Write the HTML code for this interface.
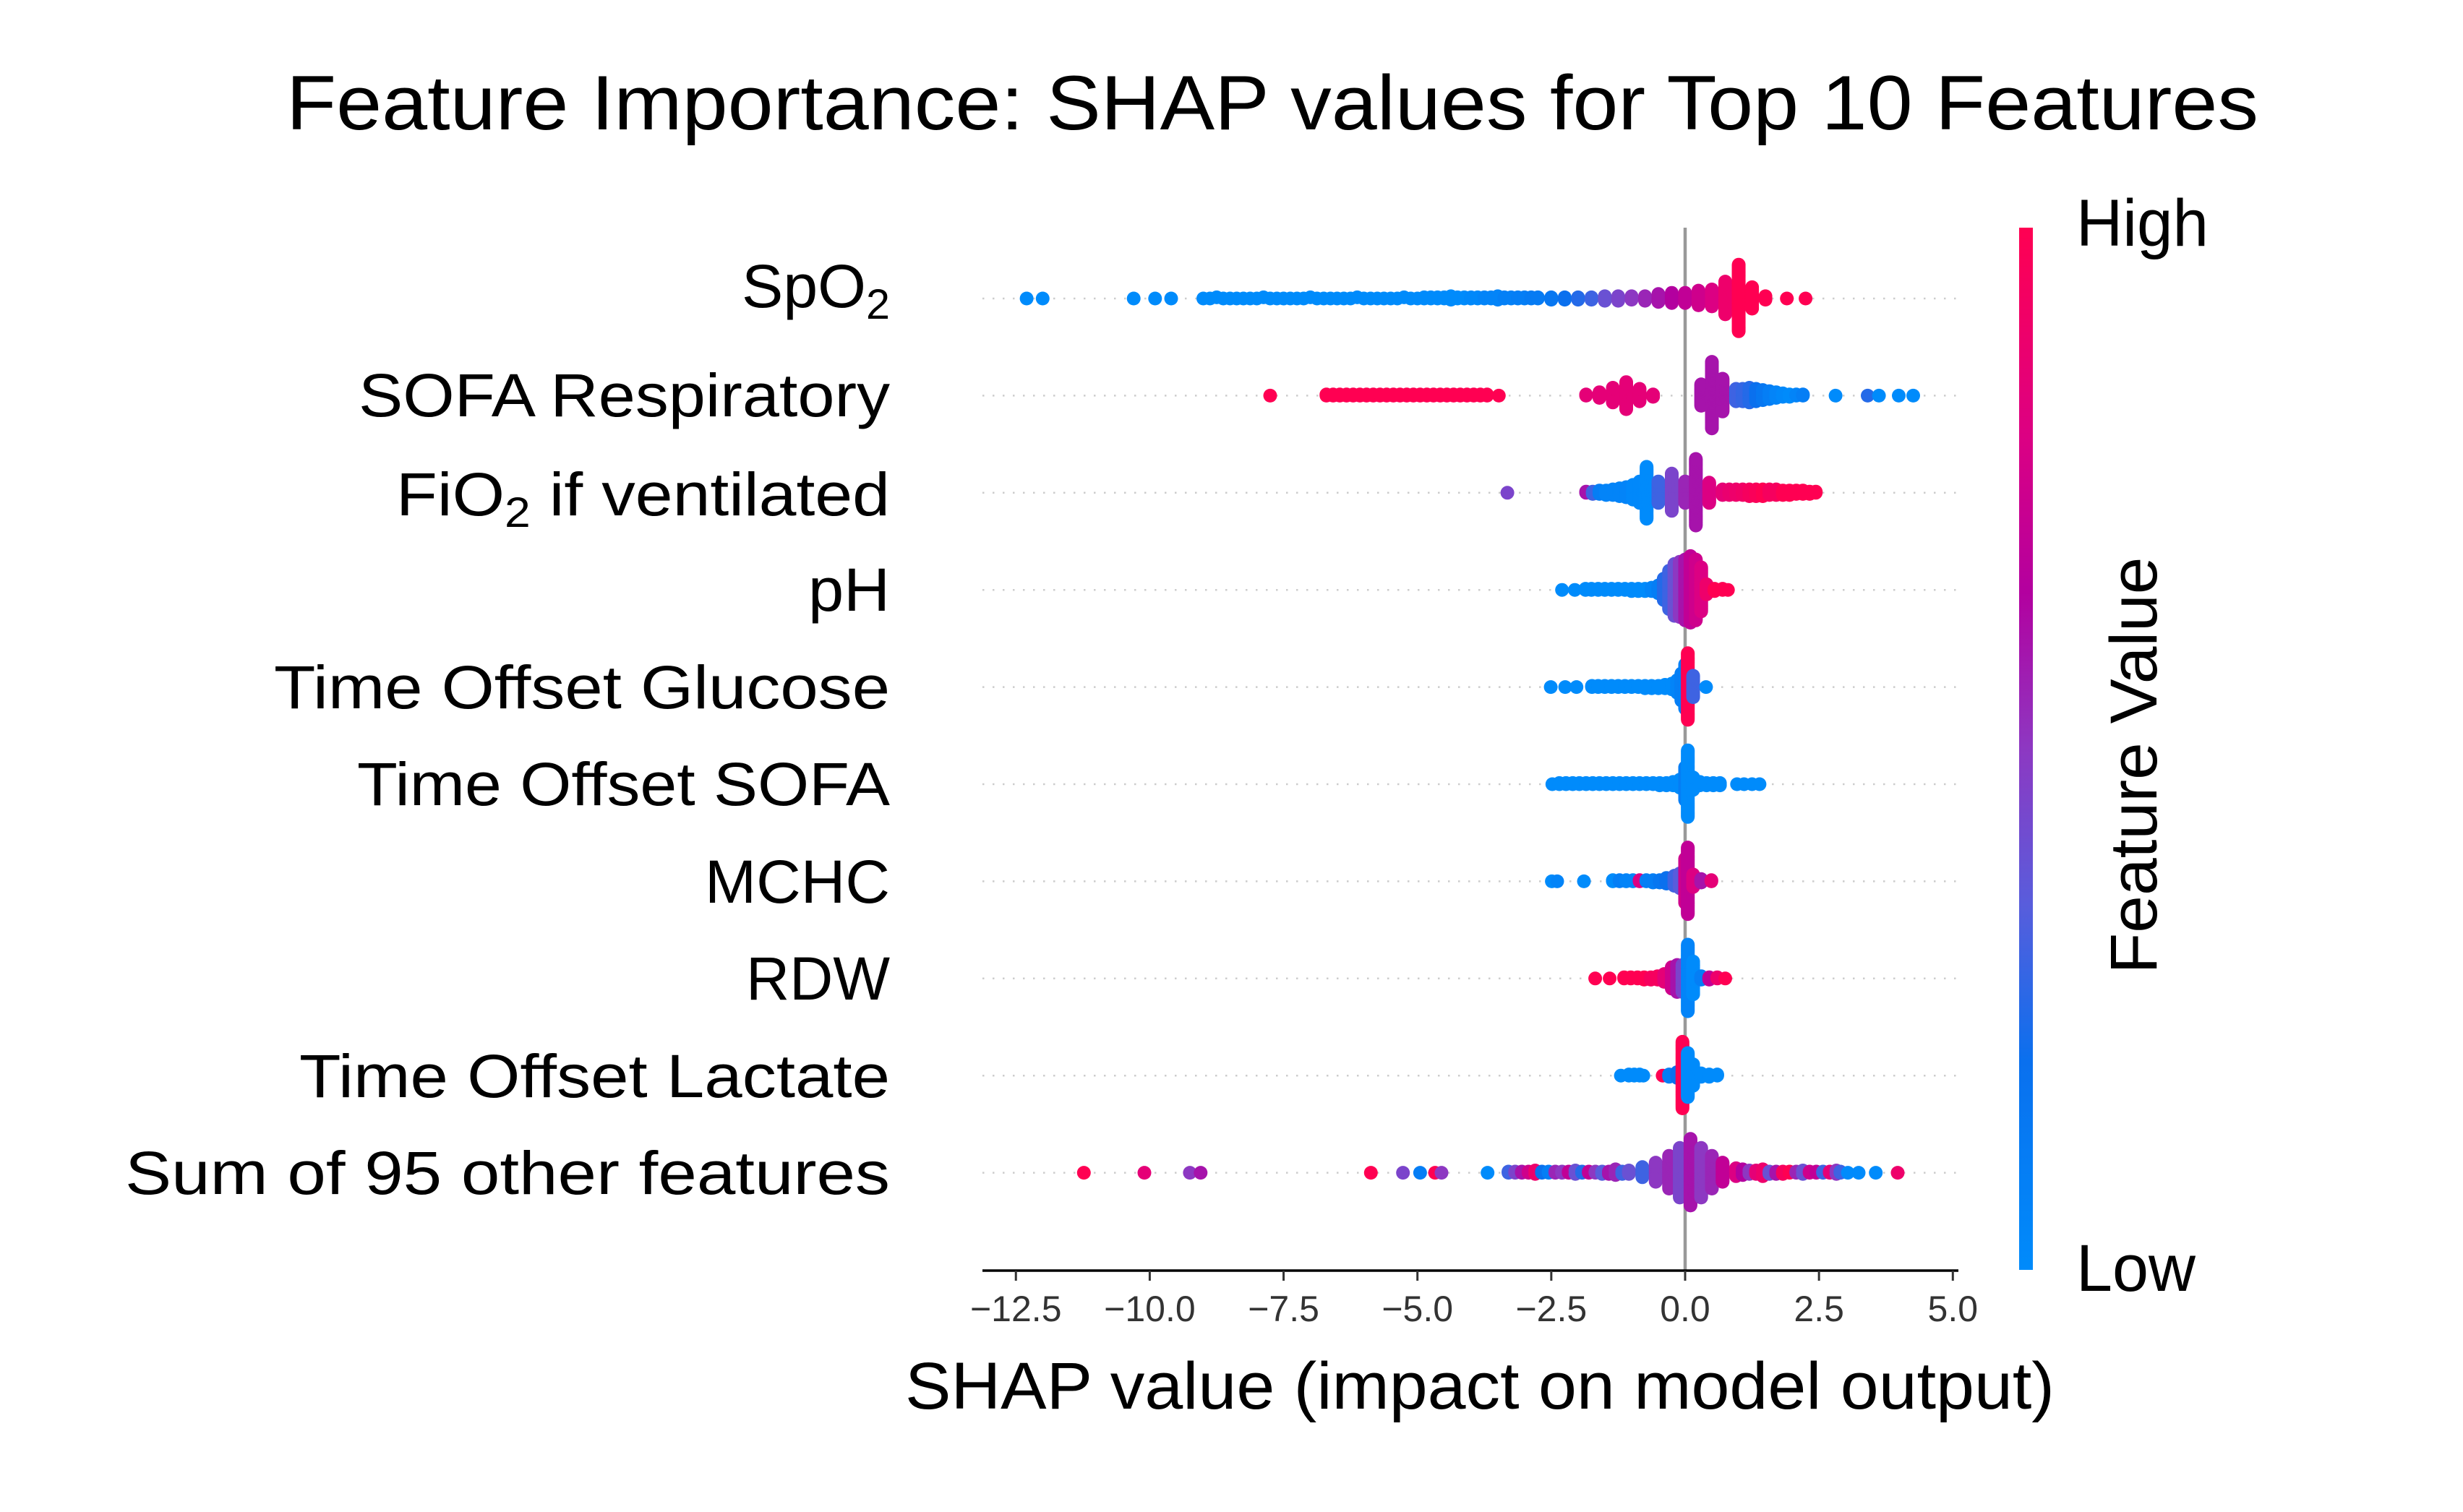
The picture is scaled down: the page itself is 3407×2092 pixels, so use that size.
<!DOCTYPE html>
<html><head><meta charset="utf-8"><title>SHAP summary</title>
<style>html,body{margin:0;padding:0;background:#fff}svg{display:block}text{font-family:"Liberation Sans",sans-serif}</style>
</head><body>
<svg id="chart" xmlns="http://www.w3.org/2000/svg" width="3407" height="2092" viewBox="0 0 3407 2092">
<defs>
<linearGradient id="cbar" x1="0" y1="1" x2="0" y2="0">
<stop offset="0" stop-color="#008bfb"/><stop offset="0.2" stop-color="#0a70ee"/><stop offset="0.35" stop-color="#585ddc"/><stop offset="0.5" stop-color="#8d38c2"/><stop offset="0.65" stop-color="#b3009f"/><stop offset="0.8" stop-color="#dc0083"/><stop offset="1" stop-color="#ff0052"/>
</linearGradient>
</defs>
<rect width="3407" height="2092" fill="#fff"/>
<text x="396" y="179" font-size="107" textLength="2728" lengthAdjust="spacingAndGlyphs" fill="#000">Feature Importance: SHAP values for Top 10 Features</text>
<g id="grid"></g>
<line x1="2331" y1="315" x2="2331" y2="1758" stroke="#999" stroke-width="4.5"/>
<g id="dots"></g>
<g id="labels"></g>
<line x1="1359" y1="1758" x2="2709" y2="1758" stroke="#000" stroke-width="3.5"/>
<g id="xticks"></g>
<text x="1252" y="1949" font-size="92" textLength="1590" lengthAdjust="spacingAndGlyphs" fill="#000">SHAP value (impact on model output)</text>
<rect x="2793" y="315" width="19" height="1442" fill="url(#cbar)"/>
<text x="2872" y="340" font-size="92" textLength="183" lengthAdjust="spacingAndGlyphs" fill="#000">High</text>
<text x="2872" y="1786" font-size="92" textLength="165" lengthAdjust="spacingAndGlyphs" fill="#000">Low</text>
<text transform="translate(2983,1059) rotate(-90)" text-anchor="middle" font-size="92" textLength="577" lengthAdjust="spacingAndGlyphs" fill="#000">Feature Value</text>
</svg>
<script>
const features = ["SpO2","SOFA Respiratory","FiO2 if ventilated","pH","Time Offset Glucose","Time Offset SOFA","MCHC","RDW","Time Offset Lactate","Sum of 95 other features"];
const xTicks = [-12.5,-10,-7.5,-5,-2.5,0,2.5,5];
const xTickLabels = ["\u221212.5","\u221210.0","\u22127.5","\u22125.0","\u22122.5","0.0","2.5","5.0"];

// per-feature: SHAP value positions, number of points at that value, feature value colour (0 low .. 1 high)
const vals0 = [-12.3,-12.0,-10.3,-9.9,-9.6,
 -9.0,-8.875,-8.75,-8.625,-8.5,-8.375,-8.25,-8.125,-8.0,-7.875,-7.75,-7.625,-7.5,-7.375,-7.25,-7.125,-7.0,-6.875,-6.75,-6.625,-6.5,-6.375,-6.25,-6.125,-6.0,-5.875,-5.75,-5.625,-5.5,-5.375,-5.25,-5.125,-5.0,
 -4.875,-4.75,-4.625,-4.5,-4.375,-4.25,-4.125,-4.0,-3.875,-3.75,-3.625,-3.5,-3.375,-3.25,-3.125,-3.0,-2.875,-2.75,
 -2.5,-2.25,-2.0,-1.75,-1.5,-1.25,-1.0,-0.75,-0.5,-0.25,0,0.25,0.5,0.75,1.0,1.25,1.5,1.9,2.25];
const cnts0 = [1,1,1,1,1,
 1,1,1,1,1,1,1,1,1,1,1,1,1,1,1,1,1,1,1,1,1,1,1,1,1,1,1,1,1,1,1,1,1,
 2,2,2,2,2,2,2,2,2,2,2,2,2,2,2,2,2,2,
 3,3,3,3,5,5,4,5,8,10,10,14,16,30,60,20,4,1,1];
const cols0 = [0,0,0,0,0,
 0,0,0,0,0,0,0,0,0,0,0,0,0,0,0,0,0,0,0,0,0,0,0,0,0,0,0,0,0,0,0,0,0,
 0,0,0,0,0,0,0,0.02,0.02,0.05,0.05,0.05,0.08,0.08,0.1,0.1,0.12,0.12,
 0.15,0.2,0.25,0.3,0.4,0.45,0.5,0.55,0.6,0.65,0.7,0.75,0.8,0.9,1,1,1,1,1];

const vals1 = [-7.75,-6.7,-6.575,-6.45,-6.325,-6.2,-6.075,-5.95,-5.825,-5.7,-5.575,-5.45,-5.325,-5.2,-5.075,-4.95,-4.825,-4.7,-4.575,-4.45,-4.325,-4.2,-4.075,-3.95,-3.825,-3.7,-3.48,
 -1.85,-1.6,-1.35,-1.1,-0.85,-0.6,0.3,0.5,0.7,0.95,1.075,1.2,1.325,1.45,1.575,1.7,1.825,1.95,2.075,2.2,2.81,3.41,3.62,3.99,4.26];
const cnts1 = [1,2,2,2,2,2,2,2,2,2,2,2,2,2,2,2,2,2,2,2,2,2,2,2,2,2,1,
 2,6,14,25,12,3,20,60,30,12,12,14,12,10,8,6,4,3,2,2,1,1,1,1,1];
const cols1 = [1,1,1,1,1,1,1,1,1,1,1,1,1,1,1,1,1,1,1,1,1,1,1,1,1,1,1,
 0.85,0.85,0.85,0.85,0.85,0.85,0.6,0.6,0.6,0.3,0.28,0.25,0.2,0.15,0.1,0.05,0.02,0,0.05,0.1,0,0.25,0,0,0];

const vals2 = [-3.32,-1.85,-1.725,-1.6,-1.475,-1.35,-1.225,-1.1,-0.975,-0.85,-0.72,-0.5,-0.25,0.0,0.2,0.45,0.7,0.825,0.95,1.075,1.2,1.325,1.45,1.575,1.7,1.825,1.95,2.075,2.2,2.325,2.44];
const cnts2 = [1,2,3,4,5,6,8,10,14,20,47,20,34,20,60,19,6,6,6,6,7,7,7,6,6,5,5,4,4,3,2];
const cols2 = [0.45,0.6,0.3,0.1,0.05,0.05,0.05,0.05,0.02,0.02,0,0.3,0.45,0.55,0.6,0.8,0.85,0.88,0.9,0.92,0.95,0.97,1,0.95,0.95,1,1,1,1,1,1];

const vals3 = [-2.3,-2.06,-1.86,-1.75,-1.625,-1.5,-1.375,-1.25,-1.125,-1.0,-0.875,-0.75,-0.625,-0.5,-0.4,-0.3,-0.2,-0.1,0.0,0.1,0.2,0.3,0.4,0.55,0.7,0.8];
const cnts3 = [1,1,2,2,2,2,2,2,2,3,3,3,4,8,20,35,47,50,55,60,55,40,10,3,2,1];
const cols3 = [0,0,0,0,0,0,0,0,0,0,0,0,0.05,0.1,0.25,0.3,0.4,0.5,0.6,0.7,0.75,0.8,0.9,1,1,1];

const vals4 = [-2.51,-2.24,-2.03,-1.74,-1.625,-1.5,-1.375,-1.25,-1.125,-1.0,-0.875,-0.75,-0.625,-0.5,-0.375,-0.25,-0.15,-0.07,0.0,0.05,0.15,0.39];
const cnts4 = [1,1,1,2,2,2,2,2,2,2,2,3,3,3,4,6,12,25,40,60,20,1];
const cols4 = [0,0,0,0,0,0,0,0,0,0,0,0,0,0,0,0,0.05,0.1,0.1,1,0.3,0];

const vals5 = [-2.48,-2.35,-2.225,-2.1,-1.975,-1.85,-1.725,-1.6,-1.475,-1.35,-1.225,-1.1,-0.975,-0.85,-0.725,-0.6,-0.475,-0.35,-0.225,-0.1,0.0,0.05,0.15,0.275,0.4,0.525,0.65,0.97,1.1,1.25,1.39];
const cnts5 = [1,2,2,2,2,2,2,2,2,2,2,2,2,2,2,2,3,3,4,8,30,60,12,4,3,3,3,1,1,1,1];
const cols5 = [0,0,0,0,0,0,0,0,0,0,0,0,0,0,0,0,0,0,0,0,0.1,0,0,0,0,0,0,0,0,0,0];

const vals6 = [-2.49,-2.39,-1.89,-1.35,-1.225,-1.1,-0.975,-0.85,-0.725,-0.6,-0.475,-0.35,-0.2,-0.1,0.0,0.05,0.15,0.3,0.49];
const cnts6 = [1,1,1,2,2,2,2,2,2,3,3,6,10,14,40,60,12,4,2];
const cols6 = [0,0.05,0,0,0.1,0.05,0.05,0.8,0.1,0.1,0.15,0.2,0.3,0.35,0.75,0.7,0.8,0.6,0.85];

const vals7 = [-1.68,-1.41,-1.14,-1.015,-0.89,-0.765,-0.64,-0.515,-0.39,-0.25,-0.15,-0.05,0.05,0.15,0.3,0.45,0.6,0.75];
const cnts7 = [1,1,2,2,2,3,3,4,8,20,25,25,60,30,4,3,2,1];
const cols7 = [1,1,1,1,1,1,0.95,0.95,0.85,0.75,0.6,0.45,0.05,0,0.1,0.7,0.9,1];

const vals8 = [-1.2,-1.05,-0.95,-0.85,-0.78,-0.42,-0.3,-0.15,-0.05,0.05,0.15,0.3,0.45,0.6];
const cnts8 = [1,2,2,2,1,1,3,6,60,40,20,4,3,2];
const cols8 = [0,0,0,0,0,1,0.1,0.2,1,0,0,0,0,0];

const vals9 = [-11.23,-10.1,-9.25,-9.05,-5.87,-5.27,-4.95,-4.67,-4.55,-3.69,
 -3.3,-3.175,-3.05,-2.925,-2.8,-2.675,-2.55,-2.425,-2.3,-2.175,-2.05,-1.925,-1.8,-1.675,-1.55,-1.425,-1.3,-1.175,-1.05,
 -0.8,-0.55,-0.3,-0.1,0.1,0.3,0.5,0.7,
 0.95,1.075,1.2,1.325,1.45,1.575,1.7,1.825,1.95,2.075,2.2,2.325,2.45,2.575,2.7,2.825,2.9,3.04,3.24,3.56,3.97];
const cnts9 = [1,1,1,1,1,1,1,1,1,1,
 2,2,2,2,2,2,2,2,2,2,2,2,2,2,3,3,3,3,4,
 10,18,30,45,60,45,30,18,
 8,6,4,4,3,3,3,3,2,2,2,2,2,2,2,2,2,1,1,1,1];
const cols9 = [1,0.85,0.5,0.6,1,0.45,0.1,1,0.5,0,
 0.3,0.45,0.6,0.75,0.9,0.2,0.1,0.55,0.5,0.7,0.4,0.25,0.7,0.5,0.35,0.6,0.55,0.3,0.4,
 0.3,0.5,0.55,0.45,0.6,0.5,0.55,0.7,
 0.8,0.65,0.5,0.85,0.9,0.4,0.6,0.95,1,0.55,0.4,0.75,0.7,0.3,0.85,0.5,0.3,0,0,0,0.9];

const allVals = [vals0,vals1,vals2,vals3,vals4,vals5,vals6,vals7,vals8,vals9];
const allCnts = [cnts0,cnts1,cnts2,cnts3,cnts4,cnts5,cnts6,cnts7,cnts8,cnts9];
const allCols = [cols0,cols1,cols2,cols3,cols4,cols5,cols6,cols7,cols8,cols9];

const NS = "http://www.w3.org/2000/svg";
const X0 = 2331, XS = 74.06, Y0 = 413, ROW = 134.4;
function xScale(v){ return X0 + XS * v; }
function yScale(i){ return Y0 + ROW * i; }
const stops = [[0,[0,139,251]],[0.2,[10,112,238]],[0.35,[88,93,220]],[0.5,[141,56,194]],[0.65,[179,0,159]],[0.8,[220,0,131]],[1,[255,0,82]]];
function cmap(t){
  t = Math.max(0, Math.min(1, t));
  for (let k = 1; k < stops.length; k++) {
    if (t <= stops[k][0]) {
      const a = stops[k-1], b = stops[k], f = (t - a[0]) / (b[0] - a[0]);
      const c = a[1].map((q, j) => Math.round(q + (b[1][j] - q) * f));
      return "rgb(" + c.join(",") + ")";
    }
  }
  return "rgb(255,0,82)";
}

const grid = document.getElementById("grid");
const dots = document.getElementById("dots");
const labels = document.getElementById("labels");
const xt = document.getElementById("xticks");

features.forEach((name, i) => {
  const cy = yScale(i);
  const gl = document.createElementNS(NS, "line");
  
  
  gl.setAttribute("x1", 1359); gl.setAttribute("x2", 2709);
  gl.setAttribute("y1", cy); gl.setAttribute("y2", cy);
  gl.setAttribute("stroke", "#cccccc"); gl.setAttribute("stroke-width", "2.5");
  gl.setAttribute("stroke-dasharray", "2.5 11.5");
  grid.appendChild(gl);

  const vs = allVals[i], ns = allCnts[i], cs = allCols[i];
  const pts = [];
  vs.forEach((v, k) => { for (let n = 0; n < ns[k]; n++) pts.push({v: v, c: cs[k]}); });
  let mn = Infinity, mx = -Infinity;
  pts.forEach(p => { mn = Math.min(mn, p.v); mx = Math.max(mx, p.v); });
  const nb = 100, layers = {};
  let maxY = 0;
  pts.forEach(p => {
    const q = Math.round(nb * (p.v - mn) / (mx - mn + 1e-8));
    const L = layers[q] || 0;
    p.y = Math.ceil(L / 2) * ((L % 2) * 2 - 1);
    layers[q] = L + 1;
    maxY = Math.max(maxY, p.y);
  });
  const sc = 0.9 * 0.4 / (maxY + 1) * ROW;
  const g = document.createElementNS(NS, "g");
  
  
  pts.forEach(p => {
    const c = document.createElementNS(NS, "circle");
    
    
    c.setAttribute("cx", xScale(p.v).toFixed(1));
    c.setAttribute("cy", (cy - p.y * sc).toFixed(1));
    c.setAttribute("r", "9.5");
    c.setAttribute("fill", cmap(p.c));
    g.appendChild(c);
  });
  dots.appendChild(g);
});

const labelSpec = [
  {sub:["SpO","2",""], base:425, len:205},
  {txt:"SOFA Respiratory", base:576, len:735},
  {sub:["FiO","2"," if ventilated"], base:713, len:683},
  {txt:"pH", base:845, len:113},
  {txt:"Time Offset Glucose", base:980, len:852},
  {txt:"Time Offset SOFA", base:1114, len:737},
  {txt:"MCHC", base:1249, len:256},
  {txt:"RDW", base:1383, len:199},
  {txt:"Time Offset Lactate", base:1518, len:817},
  {txt:"Sum of 95 other features", base:1652, len:1058}
];
labelSpec.forEach(s => {
  const t = document.createElementNS(NS, "text");
  
  
  t.setAttribute("x", 1231 - s.len); t.setAttribute("y", s.base);
  t.setAttribute("font-size", "84"); t.setAttribute("fill", "#000");
  t.setAttribute("textLength", s.len); t.setAttribute("lengthAdjust", "spacingAndGlyphs");
  if (s.txt) { t.textContent = s.txt; }
  else {
    const a = document.createElementNS(NS, "tspan"); a.textContent = s.sub[0];
    const b = document.createElementNS(NS, "tspan"); b.textContent = s.sub[1];
    b.setAttribute("font-size", "58"); b.setAttribute("dy", "16");
    t.appendChild(a); t.appendChild(b);
    if (s.sub[2]) { const c = document.createElementNS(NS, "tspan"); c.textContent = s.sub[2]; c.setAttribute("dy", "-16"); t.appendChild(c); }
  }
  labels.appendChild(t);
});

xTicks.forEach((v, k) => {
  const x = xScale(v);
  const tk = document.createElementNS(NS, "line");
  
  
  tk.setAttribute("x1", x); tk.setAttribute("x2", x);
  tk.setAttribute("y1", 1758); tk.setAttribute("y2", 1772);
  tk.setAttribute("stroke", "#333"); tk.setAttribute("stroke-width", "3");
  xt.appendChild(tk);
  const tl = document.createElementNS(NS, "text");
  
  
  tl.setAttribute("x", x); tl.setAttribute("y", 1828);
  tl.setAttribute("text-anchor", "middle"); tl.setAttribute("font-size", "50");
  tl.setAttribute("fill", "#333");
  tl.textContent = xTickLabels[k];
  xt.appendChild(tl);
});
</script>
</body></html>
